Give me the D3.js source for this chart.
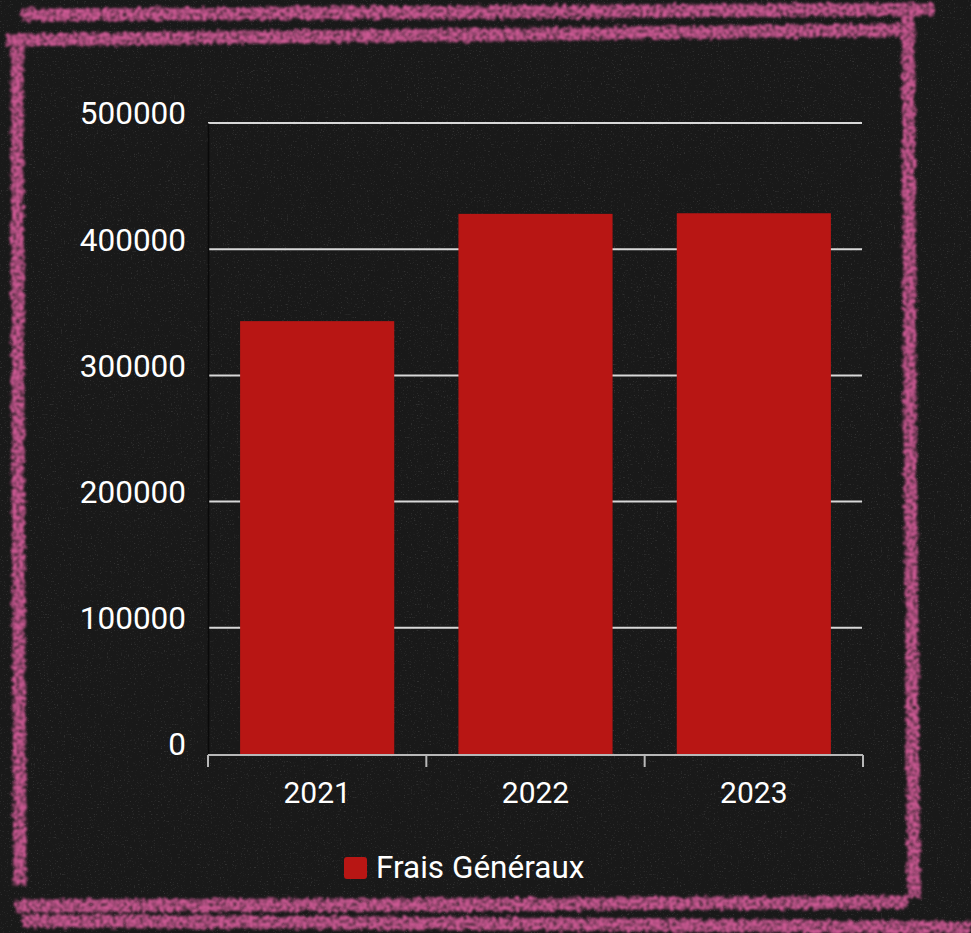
<!DOCTYPE html>
<html>
<head>
<meta charset="utf-8">
<script src="https://cdn.jsdelivr.net/npm/d3@7"></script>
<style>
  html, body { margin: 0; padding: 0; background: #1a1a1a; }
  svg { display: block; font-family: Roboto, "Noto Sans", sans-serif; }
</style>
</head>
<body>
<svg id="chart" width="971" height="933"></svg>
<script>
// data
var years = ["2021", "2022", "2023"];
var fraisGeneraux = [343000, 428000, 428500];
var yTicks = [0, 100000, 200000, 300000, 400000, 500000];
var seriesName = "Frais Généraux";

var width = 971, height = 933;
var plotLeft = 208, plotRight = 863, plotTop = 123, plotBottom = 754;

var svg = d3.select("#chart");
var defs = svg.append("defs");

// chalk filter for the frame
var chalk = defs.append("filter").attr("id", "chalk")
    .attr("x", "-5%").attr("y", "-5%").attr("width", "110%").attr("height", "110%");
chalk.append("feTurbulence").attr("type", "fractalNoise")
    .attr("baseFrequency", "0.22").attr("numOctaves", 3).attr("seed", 3).attr("result", "n");
chalk.append("feDisplacementMap").attr("in", "SourceGraphic").attr("in2", "n")
    .attr("scale", 8).attr("xChannelSelector", "R").attr("yChannelSelector", "G").attr("result", "d");
chalk.append("feTurbulence").attr("type", "fractalNoise")
    .attr("baseFrequency", "0.3").attr("numOctaves", 3).attr("seed", 7).attr("result", "n2");
chalk.append("feColorMatrix").attr("in", "n2").attr("type", "matrix")
    .attr("values", "0 0 0 0 0  0 0 0 0 0  0 0 0 0 0  0 0 0 -2.4 2.0").attr("result", "mask");
chalk.append("feComposite").attr("in", "d").attr("in2", "mask").attr("operator", "in")
    .attr("result", "c");
chalk.append("feGaussianBlur").attr("in", "c").attr("stdDeviation", 0.9);

// dusty speckles for the board
var dust = defs.append("filter").attr("id", "dust")
    .attr("x", 0).attr("y", 0).attr("width", "100%").attr("height", "100%");
dust.append("feTurbulence").attr("type", "fractalNoise")
    .attr("baseFrequency", "0.7").attr("numOctaves", 2).attr("seed", 11);
dust.append("feColorMatrix").attr("type", "matrix")
    .attr("values", "0 0 0 0 1  0 0 0 0 1  0 0 0 0 1  5 0 0 0 -3.1");

svg.append("rect").attr("width", width).attr("height", height).attr("fill", "#191919");
svg.append("rect").attr("width", width).attr("height", height)
    .attr("filter", "url(#dust)").attr("opacity", 0.1);

// frame
var frame = [
  [[22, 15], [500, 12], [934, 9]],
  [[6, 40], [450, 35], [902, 30]],
  [[17, 44], [18, 460], [20, 886]],
  [[908, 14], [910, 460], [914, 898]],
  [[15, 906], [460, 905], [907, 902]],
  [[22, 921], [480, 923], [971, 928]]
];
var line = d3.line().curve(d3.curveBasis);
svg.append("g").attr("filter", "url(#chalk)")
  .selectAll("path").data(frame).enter().append("path")
    .attr("d", line)
    .attr("fill", "none")
    .attr("stroke", "#d05a96")
    .attr("stroke-width", 13)
    .attr("stroke-linecap", "butt");

// scales
var x = d3.scaleBand().domain(years).range([plotLeft, plotRight]).padding(0);
var y = d3.scaleLinear().domain([0, 500000]).range([plotBottom, plotTop]);

// gridlines
svg.append("g").selectAll("line").data(yTicks.slice(1)).enter().append("line")
    .attr("x1", plotLeft).attr("x2", plotRight - 1)
    .attr("y1", function(d) { return y(d); })
    .attr("y2", function(d) { return y(d); })
    .attr("stroke", "#d8d8d8").attr("stroke-width", 2);

// bars
var inset = 0.147, barW = 0.706;
svg.append("g").selectAll("rect").data(fraisGeneraux).enter().append("rect")
    .attr("x", function(d, i) { return x(years[i]) + x.bandwidth() * inset; })
    .attr("width", x.bandwidth() * barW)
    .attr("y", function(d) { return y(d); })
    .attr("height", function(d) { return y(0) - y(d); })
    .attr("fill", "#b81614");

// y axis
var yAxis = svg.append("g").attr("transform", "translate(" + plotLeft + ",0)")
    .call(d3.axisLeft(y).tickValues(yTicks).tickSize(0).tickPadding(22).tickFormat(d3.format("d")));
yAxis.select(".domain").attr("stroke", "#0a0a0a").attr("stroke-width", 1.5);
yAxis.selectAll("text")
    .attr("fill", "#ffffff").attr("font-size", 31.5)
    .attr("font-family", "Roboto, sans-serif")
    .attr("dy", "0.03em");

// x axis
var xAxis = svg.append("g").attr("transform", "translate(0," + (plotBottom + 1) + ")")
    .call(d3.axisBottom(x).tickSize(0).tickPadding(27));
xAxis.select(".domain").remove();
xAxis.append("line").attr("x1", plotLeft).attr("x2", plotRight)
    .attr("stroke", "#b8b8b8").attr("stroke-width", 2);
xAxis.selectAll(".bound").data(years.concat(["end"])).enter().append("line")
    .attr("class", "bound")
    .attr("x1", function(d, i) { return plotLeft + i * x.step(); })
    .attr("x2", function(d, i) { return plotLeft + i * x.step(); })
    .attr("y1", 0).attr("y2", 12)
    .attr("stroke", "#b8b8b8").attr("stroke-width", 2);
xAxis.selectAll("text")
    .attr("fill", "#ffffff").attr("font-size", 30)
    .attr("font-family", "Roboto, sans-serif");

// legend
var legend = svg.append("g").attr("transform", "translate(344,857)");
legend.append("rect").attr("width", 23).attr("height", 22).attr("rx", 3)
    .attr("fill", "#b81614");
legend.append("text").attr("x", 32).attr("y", 20.5)
    .attr("fill", "#ffffff").attr("font-size", 31.5)
    .text(seriesName);
</script>
</body>
</html>
